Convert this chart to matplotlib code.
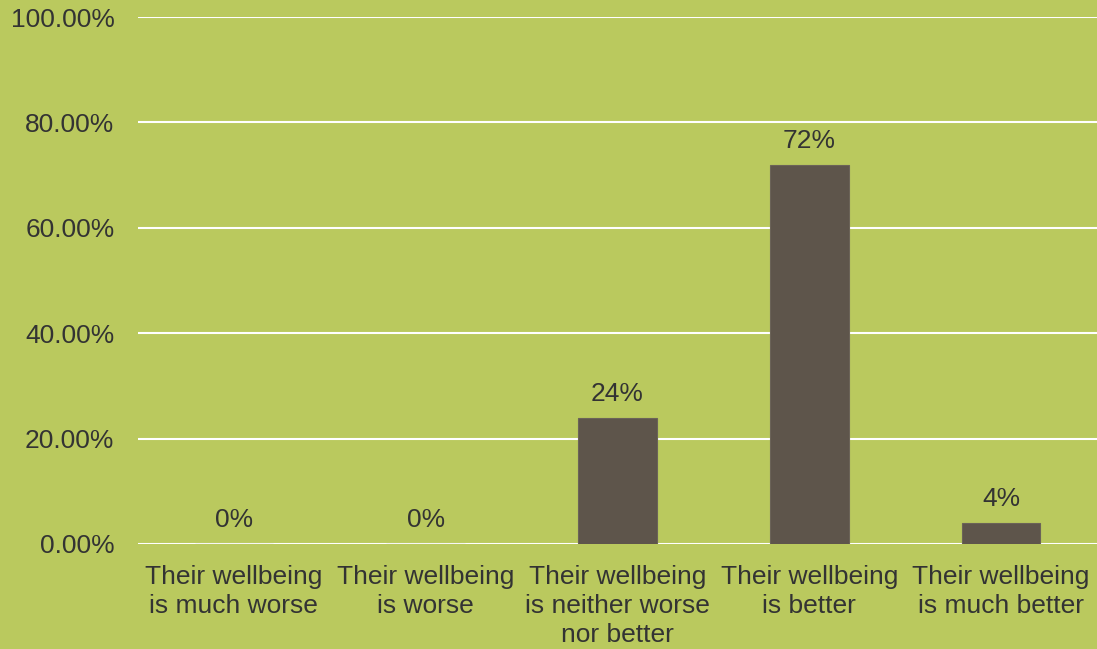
import matplotlib.pyplot as plt
from matplotlib.ticker import PercentFormatter

categories = ['Their wellbeing\nis much worse', 'Their wellbeing\nis worse',
              'Their wellbeing\nis neither worse\nnor better', 'Their wellbeing\nis better',
              'Their wellbeing\nis much better']
values = [0.0, 0.0, 0.24, 0.72, 0.04]
labels = ['0%', '0%', '24%', '72%', '4%']

bg = '#BAC95E'
bar_color = '#5E554B'
text_color = '#333333'

plt.rcParams['font.family'] = ['Liberation Sans', 'DejaVu Sans']

fig = plt.figure(figsize=(10.97, 6.49), dpi=100, facecolor=bg)
ax = fig.add_axes([0.1258, 0.1618, 0.8742, 0.812])
ax.set_facecolor(bg)

x = range(len(categories))
ax.bar(x, values, width=0.41, color=bar_color, edgecolor='#6b6358', linewidth=0.8, zorder=3)

for xi, v, lab in zip(x, values, labels):
    ax.text(xi, v + 0.022, lab, ha='center', va='bottom', fontsize=19, color=text_color)

ax.set_ylim(0, 1.0)
ax.set_xlim(-0.5, len(categories) - 0.5)
ax.set_yticks([0, 0.2, 0.4, 0.6, 0.8, 1.0])
ax.yaxis.set_major_formatter(PercentFormatter(1.0, decimals=2))
ax.grid(axis='y', color='white', linewidth=1.5, zorder=0)
ax.set_xticks(list(x))
ax.set_xticklabels(categories, fontsize=19, color=text_color, linespacing=1.27)
ax.tick_params(axis='y', labelsize=19, labelcolor=text_color, length=0, pad=17)
ax.tick_params(axis='x', length=0, pad=15)
for s in ax.spines.values():
    s.set_visible(False)

plt.savefig('out.png', dpi=100, facecolor=bg)
plt.close()
